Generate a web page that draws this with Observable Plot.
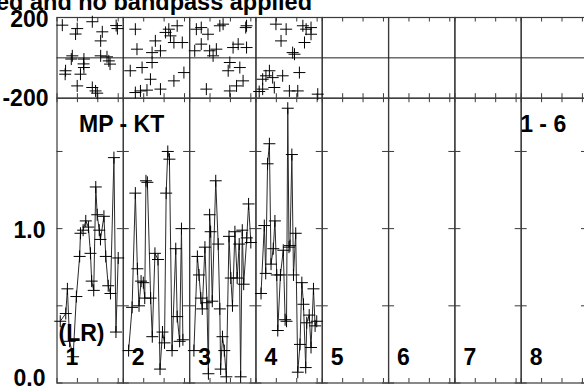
<!DOCTYPE html>
<html>
<head>
<meta charset="utf-8">
<script src="https://cdn.jsdelivr.net/npm/d3@7"></script>
<script src="https://cdn.jsdelivr.net/npm/@observablehq/plot@0.6"></script>
<style>
  html, body { margin: 0; padding: 0; background: #fff; overflow: hidden; }
  #wrap { position: relative; width: 584px; height: 392px; overflow: hidden; background: #fff; }
  #wrap svg { position: absolute; left: 0; top: 0; }
  #title { position: absolute; left: -4px; top: -11.5px; white-space: nowrap; line-height: 1;
           font: bold 23.5px "Liberation Sans", Arial, Helvetica, sans-serif; color: #000; }
</style>
</head>
<body>
<div id="wrap">
  <div id="title">ed and no bandpass applied</div>
</div>
<script>
// ---- data ----
const panels = [1, 2, 3, 4, 5, 6, 7, 8];
const xTicks = [0, 1, 2, 3];
const ampTicks = [0, 0.5, 1.0, 1.5];
const phaseTicks = [-200, 0, 200];
const baselineLabel = "MP - KT";
const rangeLabel = "1 - 6";
const polLabel = "(LR)";
const titleText = "ed and no bandpass applied";

// amplitude [time, amp] per panel
const amp1 = [[0.16,0.40],[0.43,0.45],[0.51,0.61],[0.62,0.27],[0.79,0.17],[0.95,0.56],[1.11,0.82],[1.15,0.97],[1.28,0.99],[1.41,1.05],[1.54,1.01],[1.64,0.84],[1.70,0.66],[1.80,0.60],[1.90,1.27],[1.97,1.09],[2.07,0.99],[2.13,0.93],[2.30,1.08],[2.39,0.82],[2.51,0.63],[2.62,0.58],[2.79,1.46],[2.89,0.33],[3.00,0.81]];
const amp2 = [[0.26,0.21],[0.43,0.49],[0.59,1.23],[0.69,0.74],[0.77,0.50],[0.87,0.66],[0.98,0.65],[1.05,0.55],[1.11,1.31],[1.18,1.30],[1.34,0.55],[1.42,0.30],[1.55,0.84],[1.70,0.80],[1.80,0.09],[1.92,0.33],[2.02,0.26],[2.10,1.23],[2.18,1.50],[2.26,1.45],[2.39,0.21],[2.57,0.87],[2.64,0.43],[2.76,0.27],[2.85,1.00],[2.92,0.28]];
const amp3 = [[0.21,0.21],[0.38,0.82],[0.46,0.70],[0.55,0.55],[0.62,0.48],[0.75,0.88],[0.85,0.52],[0.92,0.06],[0.98,1.09],[1.03,0.98],[1.11,0.53],[1.28,1.31],[1.40,0.90],[1.48,0.48],[1.52,0.09],[1.61,0.30],[1.70,0.21],[1.80,0.04],[1.93,0.95],[2.02,0.68],[2.10,0.50],[2.22,0.98],[2.33,0.68],[2.43,0.90],[2.50,0.04],[2.58,0.99],[2.65,0.64],[2.80,0.94],[2.89,1.16],[3.00,0.91]];
const amp4 = [[0.25,0.58],[0.41,1.02],[0.48,0.71],[0.57,1.42],[0.66,1.55],[0.74,0.77],[0.85,0.87],[0.93,1.05],[1.02,0.70],[1.07,0.34],[1.20,0.70],[1.34,0.86],[1.43,0.41],[1.50,0.40],[1.56,1.78],[1.62,0.88],[1.67,0.89],[1.76,1.48],[1.84,0.70],[1.95,0.97],[2.05,0.07],[2.16,0.25],[2.25,0.65],[2.33,0.51],[2.44,0.10],[2.49,0.39],[2.61,0.44],[2.70,0.23],[2.82,0.61],[2.90,0.37],[2.98,0.40]];

// phase [time, degrees] per panel
const ph1 = [[0.26,162],[0.99,145],[1.73,179],[0.91,118],[2.22,129],[2.96,145],[2.90,160],[2.14,84],[0.75,10],[0.70,-6],[1.32,-6],[2.14,10],[2.54,-15],[2.60,-31],[0.42,-64],[0.40,-81],[1.32,-48],[1.15,-81],[0.99,-139],[1.73,-147],[1.89,-164],[1.97,-175],[2.45,5],[1.30,-30]];
const ph2 = [[0.59,142],[0.67,43],[1.57,84],[2.23,142],[2.64,159],[2.31,109],[2.48,76],[2.07,126],[2.89,76],[1.41,26],[1.82,35],[0.34,-64],[0.92,-48],[1.41,-23],[1.33,-106],[0.59,-172],[0.84,-164],[1.16,-160],[1.82,-155],[2.48,-114],[2.97,-73]];
const ph3 = [[0.33,142],[0.57,150],[0.90,117],[1.48,159],[1.64,167],[2.79,159],[2.75,150],[0.57,68],[0.25,35],[0.98,35],[1.31,43],[2.13,51],[2.38,68],[2.79,51],[1.15,10],[1.97,-23],[1.89,-64],[2.46,-48],[0.82,-155],[1.97,-164],[2.62,-114],[2.30,-139]];
const ph4 = [[0.98,167],[1.48,142],[2.30,159],[2.46,142],[2.70,117],[2.70,150],[1.23,84],[2.38,76],[1.80,26],[1.89,18],[0.33,-106],[0.49,-89],[0.66,-64],[0.82,-98],[1.31,-89],[2.13,-73],[0.33,-155],[0.90,-147],[1.64,-164],[2.05,-164],[3.03,-180],[0.16,-167]];

// ---- tables built from the arrays ----
const ampRows = [amp1, amp2, amp3, amp4].flatMap((arr, i) => arr.map(([t, a]) => ({panel: i + 1, t, amp: a})));
const phRows = [ph1, ph2, ph3, ph4].flatMap((arr, i) => arr.map(([t, p]) => ({panel: i + 1, t, phase: p})));

// ---- layout ----
const W = 587, H = 392, ML = 56.5;
const facetW = (W - ML) / 8;
const topMT = 17, topMB = H - 97.7;
const botMT = 97.7, botMB = 9.5;
const topH = H - topMT - topMB;
const botH = H - botMT - botMB;
const FONT = "'Liberation Sans', Arial, Helvetica, sans-serif";
const frameStroke = "#3a3a3a";

const cross = {
  draw(ctx, size) {
    const r = Math.sqrt(size / Math.PI);
    ctx.moveTo(-r, 0); ctx.lineTo(r, 0);
    ctx.moveTo(0, -r); ctx.lineTo(0, r);
  }
};

const svgStyle = {background: "none", overflow: "visible", maxWidth: "none",
  fontFamily: FONT, fontWeight: "bold", fontSize: "23px", color: "#000"};

const ampPlot = Plot.plot({
  width: W, height: H,
  marginLeft: ML, marginRight: 0, marginTop: botMT, marginBottom: botMB,
  style: svgStyle,
  fx: {domain: panels, padding: 0, round: false, axis: null},
  x: {domain: [0, 3.25], axis: null},
  y: {domain: [0, 1.845], axis: null},
  marks: [
    Plot.frame({stroke: frameStroke, strokeWidth: 1.2}),
    Plot.tickX(xTicks, {x: d => d, insetTop: botH - 4.5, stroke: frameStroke}),
    Plot.tickX(xTicks, {x: d => d, insetBottom: botH - 4.5, stroke: frameStroke}),
    Plot.tickY(ampTicks, {y: d => d, insetRight: facetW - 6, stroke: frameStroke}),
    Plot.tickY(ampTicks, {y: d => d, insetLeft: facetW - 6, stroke: frameStroke}),
    Plot.line(ampRows, {x: "t", y: "amp", fx: "panel", stroke: "#2a2a2a", strokeWidth: 1}),
    Plot.dot(ampRows, {x: "t", y: "amp", fx: "panel", symbol: cross, r: 6, stroke: "#000", fill: "none", strokeWidth: 1}),
    Plot.text(panels, {fx: d => d, text: d => String(d), frameAnchor: "bottom-left", dx: 8.5, dy: -18.5,
      textAnchor: "start", lineAnchor: "bottom", fill: "#000"}),
    Plot.text([baselineLabel], {fx: () => 1, text: d => d, frameAnchor: "top-left", dx: 22, dy: 34,
      textAnchor: "start", lineAnchor: "bottom", fill: "#000"}),
    Plot.text([rangeLabel], {fx: () => 8, text: d => d, frameAnchor: "top-left", dx: -1, dy: 34,
      textAnchor: "start", lineAnchor: "bottom", fill: "#000"}),
    Plot.text([polLabel], {fx: () => 1, text: d => d, frameAnchor: "bottom-left", dx: 1.5, dy: -42,
      textAnchor: "start", lineAnchor: "bottom", fill: "#000"}),
    Plot.axisY([ampTicks[2]], {tickSize: 0, tickPadding: 11.5, label: null, dy: 1.5,
      tickFormat: d => d.toFixed(1), fill: "#000"}),
    Plot.axisY([ampTicks[0]], {tickSize: 0, tickPadding: 11.5, label: null, dy: -4,
      tickFormat: d => d.toFixed(1), fill: "#000"})
  ]
});

const phasePlot = Plot.plot({
  width: W, height: H,
  marginLeft: ML, marginRight: 0, marginTop: topMT, marginBottom: topMB,
  style: svgStyle,
  fx: {domain: panels, padding: 0, round: false, axis: null},
  x: {domain: [0, 3.25], axis: null},
  y: {domain: [-200, 200], axis: null},
  marks: [
    Plot.frame({stroke: frameStroke, strokeWidth: 1.2}),
    Plot.ruleY(panels, {fx: d => d, y: () => phaseTicks[1], stroke: "#222", strokeWidth: 1}),
    Plot.tickX(xTicks, {x: d => d, insetTop: topH - 4.5, stroke: frameStroke}),
    Plot.tickX(xTicks, {x: d => d, insetBottom: topH - 4.5, stroke: frameStroke}),
    Plot.dot(phRows, {x: "t", y: "phase", fx: "panel", symbol: cross, r: 6, stroke: "#000", fill: "none", strokeWidth: 1}),
    Plot.axisY([phaseTicks[2]], {tickSize: 0, tickPadding: 8.5, label: null, dy: 2.5,
      tickFormat: d => String(d), fill: "#000"}),
    Plot.axisY([phaseTicks[0]], {tickSize: 0, tickPadding: 8.5, label: null, dy: 0.5,
      tickFormat: d => String(d), fill: "#000"})
  ]
});

const wrap = document.getElementById("wrap");
wrap.appendChild(ampPlot);
wrap.appendChild(phasePlot);
document.getElementById("title").textContent = titleText;
</script>
</body>
</html>
